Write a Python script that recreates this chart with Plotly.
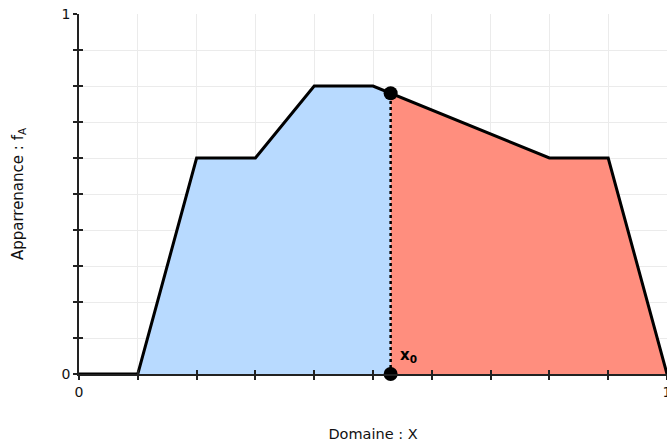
import plotly.graph_objects as go

# Data
xs = [0.0, 0.1, 0.2, 0.3, 0.4, 0.5, 0.8, 0.9, 1.0]
ys = [0.0, 0.0, 0.6, 0.6, 0.8, 0.8, 0.6, 0.6, 0.0]
x0 = 0.53
fx0 = 0.78

left_x = [x for x in xs if x <= x0] + [x0]
left_y = [y for x, y in zip(xs, ys) if x <= x0] + [fx0]
right_x = [x0] + [x for x in xs if x >= x0]
right_y = [fx0] + [y for x, y in zip(xs, ys) if x >= x0]

grid_vals = [i / 10 for i in range(11)]
grid_text = ["0"] + [" "] * 9 + ["1"]

fig = go.Figure()
fig.add_trace(go.Scatter(x=left_x, y=left_y, fill="tozeroy", mode="none",
                         fillcolor="rgb(184,218,255)", hoverinfo="skip"))
fig.add_trace(go.Scatter(x=right_x, y=right_y, fill="tozeroy", mode="none",
                         fillcolor="rgb(255,142,126)", hoverinfo="skip"))
fig.add_trace(go.Scatter(x=xs, y=ys, mode="lines",
                         line=dict(color="black", width=3)))
fig.add_trace(go.Scatter(x=[x0, x0], y=[0, fx0], mode="lines",
                         line=dict(color="black", width=2.5, dash="dot")))
fig.add_trace(go.Scatter(x=[x0, x0], y=[0, fx0], mode="markers",
                         marker=dict(color="black", size=14), cliponaxis=False))
# overlay axes for inside tick halves
fig.add_trace(go.Scatter(x=[0, 1], y=[0, 1], mode="none", xaxis="x2", yaxis="y2",
                         hoverinfo="skip"))

fig.add_annotation(x=x0, y=0, text="<b>x<sub>0</sub></b>", showarrow=False,
                   xanchor="left", yanchor="bottom", xshift=7, yshift=7,
                   font=dict(size=15, color="black", family="DejaVu Sans"))

axis_common = dict(range=[0, 1], tickvals=grid_vals, ticktext=grid_text,
                   showline=True, linecolor="#222", linewidth=1.5,
                   ticks="outside", ticklen=4, tickcolor="#222", tickwidth=1.5,
                   showgrid=True, gridcolor="#ebebeb", gridwidth=1,
                   zeroline=False, automargin=False,
                   tickfont=dict(size=14, color="#111"))

# the plot area runs to the window's right edge; the figure is a bit wider
# so the right "1" tick label is cut by the window as in the reference
fig.update_layout(
    width=680, height=445,
    margin=dict(l=79, r=13, t=14, b=71),
    paper_bgcolor="white", plot_bgcolor="white",
    showlegend=False,
    font=dict(family="DejaVu Sans", size=12, color="#111"),
    xaxis=dict(**axis_common, title=dict(text="Domaine : X", standoff=30,
                                          font=dict(size=14.5))),
    yaxis=dict(**axis_common, title=dict(text="Apparrenance : f<sub>A</sub>",
                                          standoff=34, font=dict(size=15))),
    xaxis2=dict(range=[0, 1], overlaying="x", tickvals=grid_vals, ticks="inside",
                ticklen=4, tickcolor="#222", tickwidth=1.5, showticklabels=False,
                showgrid=False, zeroline=False, anchor="y2", side="bottom",
                automargin=False),
    yaxis2=dict(range=[0, 1], overlaying="y", tickvals=grid_vals, ticks="inside",
                ticklen=4, tickcolor="#222", tickwidth=1.5, showticklabels=False,
                showgrid=False, zeroline=False, anchor="x2", side="left",
                automargin=False),
)

fig.write_html(
    "out.html",
    config={"displayModeBar": False},
    post_script="document.body.style.margin='0';document.body.style.overflow='hidden';",
)
